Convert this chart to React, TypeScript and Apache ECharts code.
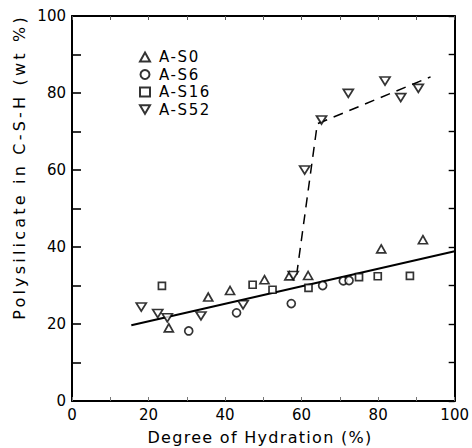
import React, { useEffect, useRef } from "react";
import * as echarts from "echarts";

// Data (x = degree of hydration %, y = polysilicate wt %)
const seriesNames = ["A-S0", "A-S6", "A-S16", "A-S52"];

const aS0: [number, number][] = [
  [25.3, 19.0], [35.6, 27.0], [41.3, 28.7], [50.3, 31.5],
  [56.8, 32.5], [61.7, 32.6], [80.8, 39.5], [91.7, 41.9],
];
const aS6: [number, number][] = [
  [30.5, 18.2], [43.0, 22.9], [57.3, 25.3], [65.5, 30.0],
  [70.9, 31.2], [72.4, 31.3],
];
const aS16: [number, number][] = [
  [23.5, 29.9], [47.2, 30.2], [52.4, 28.9], [61.8, 29.4],
  [75.0, 32.2], [79.9, 32.4], [88.3, 32.5],
];
const aS52: [number, number][] = [
  [18.1, 24.4], [22.4, 22.7], [24.9, 21.6], [33.7, 22.1],
  [44.7, 25.0], [57.8, 32.6], [60.8, 60.0], [65.2, 73.0],
  [72.2, 79.9], [81.8, 83.1], [85.9, 78.8], [90.5, 81.2],
];

const solidFit: [number, number][] = [[15.5, 19.7], [100, 38.9]];
const dashedFit: [number, number][] = [[58.7, 32.8], [64.1, 72.0], [93.7, 84.2]];

const xTickValues = [0, 20, 40, 60, 80, 100];
const yTickValues = [0, 20, 40, 60, 80, 100];

const xTitle = "Degree of Hydration (%)";
const yTitle = "Polysilicate in C-S-H (wt %)";

const FONT = "DejaVu Sans";
const INV_TRI = "path://M0,0 L10,0 L5,8.66 Z";

export default function App() {
  const ref = useRef<HTMLDivElement>(null);

  useEffect(() => {
    if (!ref.current) return;
    const chart = echarts.init(ref.current, null, { renderer: "svg" });

    const markerStyle = { color: "#ffffff", borderColor: "#000", borderWidth: 1.7 };
    const scatter = (name: string, data: [number, number][], symbol: string, size: number | number[]) => ({
      type: "scatter",
      name,
      data,
      symbol,
      symbolSize: size,
      itemStyle: markerStyle,
      xAxisIndex: 0,
      yAxisIndex: 0,
      z: 5,
    });

    chart.setOption({
      animation: false,
      backgroundColor: "#ffffff",
      grid: { left: 72, right: 15, top: 16, bottom: 47, containLabel: false },
      legend: {
        data: seriesNames,
        orient: "vertical",
        left: 134,
        top: 44,
        itemWidth: 10,
        itemHeight: 9,
        itemGap: 1.5,
        textStyle: { fontFamily: FONT, fontSize: 15, lineHeight: 16, color: "#000", padding: [0, 0, 0, 4] },
      },
      xAxis: [
        {
          type: "value",
          position: "bottom",
          min: 0,
          max: 100,
          interval: 10,
          axisLine: { show: true, onZero: false, lineStyle: { color: "#000", width: 2 } },
          axisTick: { show: true, inside: true, length: 4, lineStyle: { color: "#777", width: 1 } },
          axisLabel: {
            fontFamily: FONT,
            fontSize: 15,
            color: "#000",
            margin: 6,
            formatter: (v: number) => (xTickValues.includes(v) ? String(v) : ""),
          },
          splitLine: { show: false },
        },
        {
          type: "value",
          position: "top",
          min: 0,
          max: 100,
          interval: 10,
          axisLine: { show: true, onZero: false, lineStyle: { color: "#000", width: 2 } },
          axisTick: { show: true, inside: true, length: 4, lineStyle: { color: "#555", width: 1 } },
          axisLabel: { show: false },
          splitLine: { show: false },
        },
      ],
      yAxis: [
        {
          type: "value",
          position: "left",
          min: 0,
          max: 100,
          interval: 10,
          axisLine: { show: true, onZero: false, lineStyle: { color: "#000", width: 2 } },
          axisTick: { show: true, inside: true, length: 9, lineStyle: { color: "#000", width: 1.6 } },
          axisLabel: {
            fontFamily: FONT,
            fontSize: 15,
            color: "#000",
            margin: 6,
            formatter: (v: number) => (yTickValues.includes(v) ? String(v) : ""),
          },
          splitLine: { show: false },
        },
        {
          type: "value",
          position: "right",
          min: 0,
          max: 100,
          interval: 10,
          axisLine: { show: true, onZero: false, lineStyle: { color: "#000", width: 2 } },
          axisTick: { show: true, inside: true, length: 6, lineStyle: { color: "#000", width: 1.4 } },
          axisLabel: { show: false },
          splitLine: { show: false },
        },
      ],
      graphic: [
        {
          type: "text",
          x: 260,
          y: 437,
          style: {
            text: xTitle,
            fontFamily: FONT,
            fontSize: 16,
            fill: "#000",
            align: "center",
            verticalAlign: "middle",
          },
        },
        {
          type: "text",
          x: 19,
          y: 167,
          rotation: Math.PI / 2,
          style: {
            text: yTitle,
            fontFamily: FONT,
            fontSize: 16,
            fill: "#000",
            align: "center",
            verticalAlign: "middle",
          },
        },
      ],
      series: [
        {
          type: "line",
          data: solidFit,
          showSymbol: false,
          symbol: "none",
          lineStyle: { color: "#000", width: 2 },
          z: 3,
          silent: true,
        },
        {
          type: "line",
          data: dashedFit,
          showSymbol: false,
          symbol: "none",
          lineStyle: { color: "#000", width: 1.5, type: [10, 7] },
          z: 3,
          silent: true,
        },
        scatter(seriesNames[0], aS0, "triangle", [9, 8]),
        scatter(seriesNames[1], aS6, "circle", 8),
        scatter(seriesNames[2], aS16, "rect", 7),
        scatter(seriesNames[3], aS52, INV_TRI, [10, 8]),
      ],
    });

    // Widen the lettering of titles and legend like the stencil lettering of the original
    const spacing: Record<string, string> = {
      [xTitle]: "1.3px",
      [yTitle]: "3.2px",
    };
    seriesNames.forEach((n) => (spacing[n] = "1.6px"));
    const applySpacing = () => {
      const dom = chart.getDom();
      dom.querySelectorAll("text").forEach((t) => {
        const s = spacing[(t.textContent || "").trim()];
        if (s) (t as SVGTextElement).style.letterSpacing = s;
      });
    };
    chart.on("finished", applySpacing);
    applySpacing();

    return () => chart.dispose();
  }, []);

  return (
    <div
      ref={ref}
      style={{ position: "fixed", left: 0, top: 0, width: 472, height: 448 }}
    />
  );
}
